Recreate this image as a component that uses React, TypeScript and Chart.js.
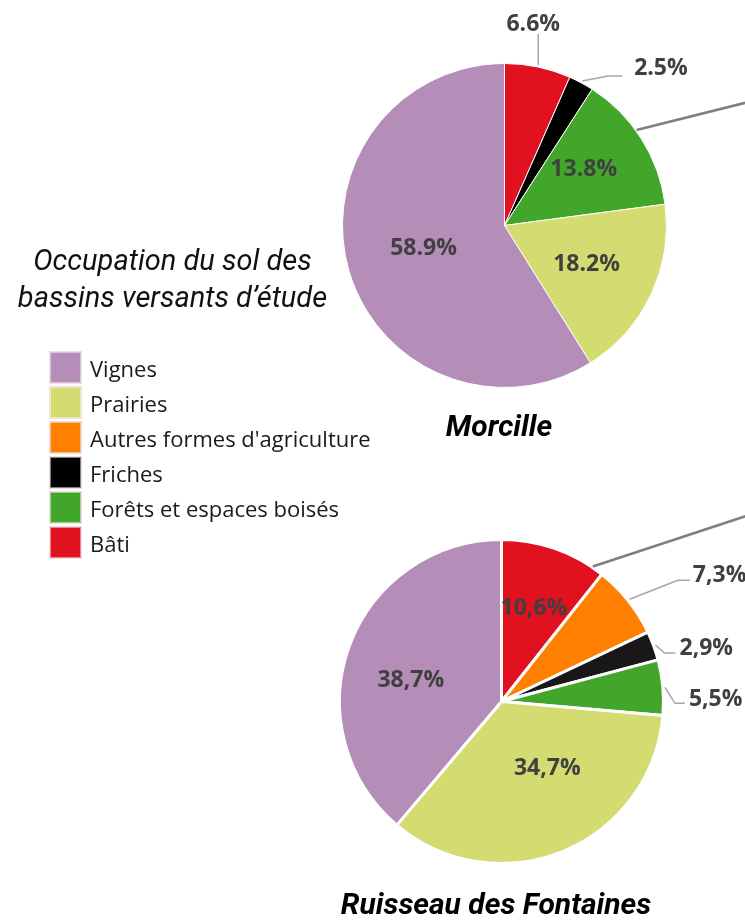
import React, { useEffect, useRef } from 'react';
import { Chart, registerables } from 'chart.js';

Chart.register(...registerables);

// ---- Data ----
const legendCategories = ['Vignes', 'Prairies', "Autres formes d'agriculture", 'Friches', 'Forêts et espaces boisés', 'Bâti'];
const legendColors = ['#b48db8', '#d3db71', '#ff7f00', '#000000', '#42a62b', '#e11120'];

// slices clockwise from the top
const sliceCategories = ['Bâti', "Autres formes d'agriculture", 'Friches', 'Forêts et espaces boisés', 'Prairies', 'Vignes'];
const sliceColorsMorcille = ['#e11120', '#ff7f00', '#000000', '#42a62b', '#d3db71', '#b48db8'];
const sliceColorsFontaines = ['#e11120', '#ff7f00', '#1a171b', '#42a62b', '#d3db71', '#b48db8'];
const morcilleValues = [6.6, 0, 2.5, 13.8, 18.2, 58.9];
const fontainesValues = [10.6, 7.3, 2.9, 5.5, 34.7, 38.7];

const titleLines = ['Occupation du sol des', 'bassins versants d\u2019étude'];
const morcilleTitle = 'Morcille';
const fontainesTitle = 'Ruisseau des Fontaines';

// ---- Label styling (placement rules, not data) ----
const morcilleLabelStyles = [
  { kind: 'vert', len: 31, tdx: -5, tdy: -2 },
  { kind: 'none' },
  { kind: 'elbow', ex: 26, ey: -5, tail: 14, tdx: 12, tdy: -8 },
  { kind: 'in', r: 0.6, da: -3 },
  { kind: 'in', r: 0.56, da: 0 },
  { kind: 'in', r: 0.52, da: 0 },
];
const fontainesLabelStyles = [
  { kind: 'in', r: 0.61, da: 0 },
  { kind: 'elbow', ex: 48, ey: -19, tail: 12, tdx: 3, tdy: -5 },
  { kind: 'elbow', ex: 9, ey: 8, tail: 11, tdx: 4, tdy: -5 },
  { kind: 'elbow', ex: 10, ey: 16, tail: 10, tdx: 4, tdy: -4 },
  { kind: 'in', r: 0.5, da: -12 },
  { kind: 'in', r: 0.575, da: -7 },
];
const morcilleStubs = [{ index: 3, frac: 0.43, dx: 216, dy: -54 }];
const fontainesStubs = [{ index: 0, frac: 0.89, dx: 304, dy: -100 }];

type LabelCfg = { styles: any[]; stubs: any[]; decimal: string };

function makeLabelPlugin(cfg: LabelCfg) {
  return {
    id: 'sliceLabels',
    afterDatasetsDraw(chart: any) {
      const meta = chart.getDatasetMeta(0);
      const values = chart.data.datasets[0].data as number[];
      const ctx = chart.ctx as CanvasRenderingContext2D;
      ctx.save();
      cfg.stubs.forEach((s: any) => {
        const arc = meta.data[s.index];
        const p = arc.getProps(['x', 'y', 'startAngle', 'endAngle', 'outerRadius'], true);
        const a = p.startAngle + s.frac * (p.endAngle - p.startAngle);
        const x0 = p.x + (p.outerRadius + 1) * Math.cos(a);
        const y0 = p.y + (p.outerRadius + 1) * Math.sin(a);
        ctx.strokeStyle = '#7f7f7f';
        ctx.lineWidth = 2.5;
        ctx.beginPath();
        ctx.moveTo(x0, y0);
        ctx.lineTo(x0 + s.dx, y0 + s.dy);
        ctx.stroke();
      });
      ctx.font = 'bold 23px "Open Sans", "Noto Sans", sans-serif';
      ctx.fillStyle = '#404040';
      meta.data.forEach((arc: any, i: number) => {
        const st = cfg.styles[i];
        const v = Number(values[i]);
        if (!st || st.kind === 'none' || !v) return;
        const p = arc.getProps(['x', 'y', 'startAngle', 'endAngle', 'outerRadius'], true);
        const mid = (p.startAngle + p.endAngle) / 2;
        const text = v.toFixed(1).replace('.', cfg.decimal) + '%';
        if (st.kind === 'in') {
          const a = mid + (st.da * Math.PI) / 180;
          const r = p.outerRadius * st.r;
          ctx.textAlign = 'center';
          ctx.textBaseline = 'middle';
          ctx.fillText(text, p.x + r * Math.cos(a), p.y + r * Math.sin(a));
          return;
        }
        const ax = p.x + (p.outerRadius + 2) * Math.cos(mid);
        const ay = p.y + (p.outerRadius + 2) * Math.sin(mid);
        ctx.strokeStyle = '#a6a6a6';
        ctx.lineWidth = 1.5;
        ctx.beginPath();
        if (st.kind === 'vert') {
          ctx.moveTo(ax, ay);
          ctx.lineTo(ax, ay - st.len);
          ctx.stroke();
          ctx.textAlign = 'center';
          ctx.textBaseline = 'bottom';
          ctx.fillText(text, ax + st.tdx, ay - st.len + st.tdy + 4);
        } else {
          const ex = ax + st.ex;
          const ey = ay + st.ey;
          ctx.moveTo(ax, ay);
          ctx.lineTo(ex, ey);
          ctx.lineTo(ex + st.tail, ey);
          ctx.stroke();
          ctx.textAlign = 'left';
          ctx.textBaseline = 'middle';
          ctx.fillText(text, ex + st.tail + st.tdx, ey + st.tdy);
        }
      });
      ctx.restore();
    },
  };
}

function PieCanvas(props: {
  values: number[];
  colors: string[];
  borderWidth: number;
  padding: { left: number; right: number; top: number; bottom: number };
  styles: any[];
  stubs: any[];
  decimal: string;
  top: number;
}) {
  const ref = useRef<HTMLCanvasElement>(null);
  useEffect(() => {
    if (!ref.current) return;
    const chart = new Chart(ref.current, {
      type: 'pie',
      data: {
        labels: sliceCategories,
        datasets: [
          {
            data: props.values,
            backgroundColor: props.colors,
            borderColor: '#ffffff',
            borderWidth: props.borderWidth,
            hoverOffset: 0,
            offset: 0,
          },
        ],
      },
      options: {
        responsive: false,
        animation: false,
        layout: { padding: props.padding },
        events: [],
        plugins: {
          legend: { display: false },
          tooltip: { enabled: false },
        },
      } as any,
      plugins: [makeLabelPlugin({ styles: props.styles, stubs: props.stubs, decimal: props.decimal }) as any],
    });
    return () => chart.destroy();
  }, []);
  return (
    <canvas
      ref={ref}
      width={745}
      height={460}
      style={{ position: 'absolute', left: 0, top: props.top, width: 745, height: 460 }}
    />
  );
}

export default function App() {
  return (
    <div style={{ position: 'absolute', left: 0, top: 0, width: 745, height: 920, background: '#ffffff', overflow: 'hidden' }}>
      <PieCanvas
        values={morcilleValues}
        colors={sliceColorsMorcille}
        borderWidth={1}
        padding={{ left: 342, right: 78, top: 63, bottom: 72 }}
        styles={morcilleLabelStyles}
        stubs={morcilleStubs}
        decimal="."
        top={0}
      />
      <PieCanvas
        values={fontainesValues}
        colors={sliceColorsFontaines}
        borderWidth={3}
        padding={{ left: 338, right: 80, top: 78, bottom: 55 }}
        styles={fontainesLabelStyles}
        stubs={fontainesStubs}
        decimal=","
        top={460}
      />
      <div
        style={{
          position: 'absolute',
          left: 0,
          top: 242,
          width: 345,
          textAlign: 'center',
          fontFamily: 'Roboto, sans-serif',
          fontStyle: 'italic',
          fontSize: 29,
          lineHeight: '37px',
          color: '#111',
          whiteSpace: 'nowrap',
        }}
      >
        {titleLines.map((l, i) => (
          <div key={i}>{l}</div>
        ))}
      </div>
      <div style={{ position: 'absolute', left: 50, top: 350 }}>
        {legendCategories.map((c, i) => (
          <div key={c} style={{ display: 'flex', alignItems: 'center', height: 35 }}>
            <div
              style={{
                width: 29,
                height: 29,
                background: legendColors[i],
                border: '1px solid rgba(255,255,255,0.5)',
                boxShadow: '0 0 0 1px rgba(200,160,180,0.35)',
              }}
            />
            <span
              style={{
                marginLeft: 9,
                fontFamily: '"Open Sans", "Noto Sans", sans-serif',
                fontSize: 22,
                color: '#1a1a1a',
                whiteSpace: 'nowrap',
              }}
            >
              {c}
            </span>
          </div>
        ))}
      </div>
      <div
        style={{
          position: 'absolute',
          left: 349,
          top: 408,
          width: 300,
          textAlign: 'center',
          fontFamily: 'Roboto, sans-serif',
          fontStyle: 'italic',
          fontWeight: 'bold',
          fontSize: 30,
          lineHeight: '36px',
          color: '#000',
        }}
      >
        {morcilleTitle}
      </div>
      <div
        style={{
          position: 'absolute',
          left: 296,
          top: 886,
          width: 400,
          textAlign: 'center',
          fontFamily: 'Roboto, sans-serif',
          fontStyle: 'italic',
          fontWeight: 'bold',
          fontSize: 30,
          lineHeight: '36px',
          color: '#000',
          whiteSpace: 'nowrap',
        }}
      >
        {fontainesTitle}
      </div>
    </div>
  );
}
